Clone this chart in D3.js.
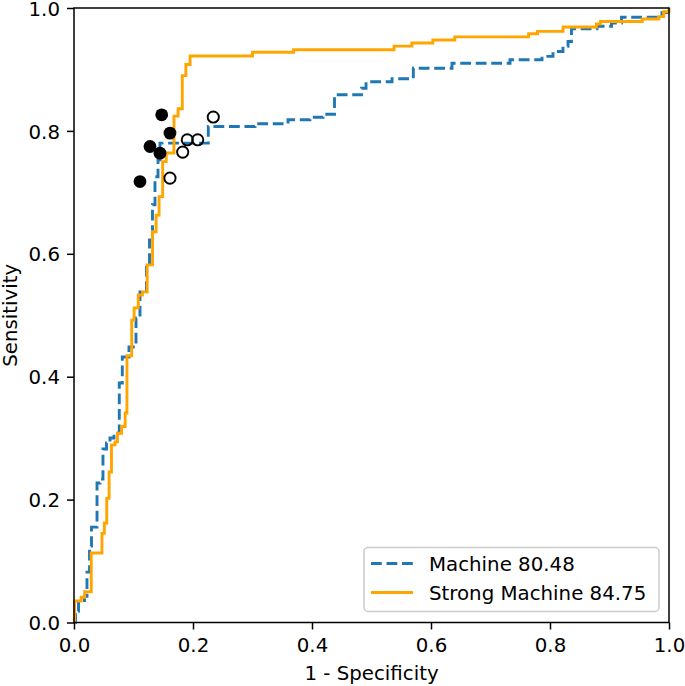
<!DOCTYPE html>
<html>
<head>
<meta charset="utf-8">
<script src="https://cdn.jsdelivr.net/npm/d3@7"></script>
<style>
  html, body { margin: 0; padding: 0; background: #fff; }
  svg { display: block; font-family: "DejaVu Sans", sans-serif; }
</style>
</head>
<body>
<svg id="chart" width="685" height="686"></svg>
<script>
// ---- Data ----
const machineFpr = [0, 0.0025, 0.0076, 0.0176, 0.0218, 0.0261, 0.0294, 0.0387, 0.0437, 0.0487, 0.0546, 0.0605, 0.0672, 0.0761, 0.0812, 0.0924, 0.1042, 0.1109, 0.1218, 0.1269, 0.1319, 0.1361, 0.1412, 0.1445, 0.2257, 0.3042, 0.3597, 0.3966, 0.4185, 0.4378, 0.4832, 0.4908, 0.5345, 0.5703, 0.6353, 0.7328, 0.7866, 0.8050, 0.8218, 0.8303, 0.8361, 0.8790, 0.9034, 0.9202, 0.9882, 0.9958, 1.0];
const machineTpr = [0, 0.0184, 0.0331, 0.0428, 0.0819, 0.1243, 0.1552, 0.2269, 0.2334, 0.2823, 0.2920, 0.3002, 0.3083, 0.3897, 0.4321, 0.4484, 0.4956, 0.5380, 0.5836, 0.6227, 0.6797, 0.7253, 0.7530, 0.7801, 0.8072, 0.8116, 0.8181, 0.8221, 0.8270, 0.8588, 0.8694, 0.8800, 0.8849, 0.9020, 0.9101, 0.9158, 0.9212, 0.9293, 0.9375, 0.9456, 0.9663, 0.9704, 0.9756, 0.9850, 0.9924, 1.0, 1.0];

const strongFpr = [0, 0.001, 0.012, 0.018, 0.029, 0.047, 0.051, 0.055, 0.059, 0.063, 0.069, 0.073, 0.080, 0.086, 0.089, 0.097, 0.101, 0.108, 0.115, 0.123, 0.132, 0.138, 0.143, 0.149, 0.155, 0.168, 0.175, 0.182, 0.188, 0.195, 0.300, 0.369, 0.538, 0.568, 0.603, 0.640, 0.764, 0.779, 0.822, 0.878, 0.885, 0.955, 0.983, 0.991, 1.0];
const strongTpr = [0, 0.035, 0.041, 0.050, 0.113, 0.145, 0.162, 0.202, 0.245, 0.289, 0.294, 0.308, 0.319, 0.341, 0.434, 0.492, 0.512, 0.533, 0.538, 0.582, 0.636, 0.663, 0.693, 0.750, 0.764, 0.824, 0.836, 0.890, 0.908, 0.922, 0.928, 0.932, 0.938, 0.943, 0.948, 0.953, 0.958, 0.962, 0.969, 0.974, 0.978, 0.982, 0.986, 0.994, 1.0];

// Individual readers (filled) and assisted readers (open)
const filledX = [0.1474, 0.1613, 0.1277, 0.1445, 0.1109];
const filledY = [0.8262, 0.7964, 0.7746, 0.7638, 0.7176];
const openX = [0.2341, 0.1904, 0.2079, 0.1827, 0.1613];
const openY = [0.8225, 0.7855, 0.7855, 0.7655, 0.7231];

const seriesNames = ["Machine 80.48", "Strong Machine 84.75"];
const seriesColors = ["#1f77b4", "#ffa500"];
const tickValues = [0.0, 0.2, 0.4, 0.6, 0.8, 1.0];
const xLabel = "1 - Specificity";
const yLabel = "Sensitivity";

// ---- Layout ----
const svg = d3.select("#chart");
const L = 74, R = 669, T = 8, B = 622.5;
const x = d3.scaleLinear().domain([0, 1]).range([L, R]);
const y = d3.scaleLinear().domain([0, 1]).range([B, T]);
const FS = 19.8;
const LW = 2.9;

const zip = (a, b) => a.map((v, i) => [v, b[i]]);
const line = d3.line().x(d => x(d[0])).y(d => y(d[1])).curve(d3.curveStepAfter);

const plot = svg.append("g");
// curves
plot.append("path")
  .attr("d", line(zip(machineFpr, machineTpr)))
  .attr("fill", "none").attr("stroke", seriesColors[0])
  .attr("stroke-width", LW).attr("stroke-dasharray", "10.8,4.7");
plot.append("path")
  .attr("d", line(zip(strongFpr, strongTpr)))
  .attr("fill", "none").attr("stroke", seriesColors[1])
  .attr("stroke-width", LW);

// markers
plot.selectAll("circle.filled").data(zip(filledX, filledY)).enter().append("circle")
  .attr("class", "filled")
  .attr("cx", d => x(d[0])).attr("cy", d => y(d[1])).attr("r", 6.4)
  .attr("fill", "#000");
plot.selectAll("circle.open").data(zip(openX, openY)).enter().append("circle")
  .attr("class", "open")
  .attr("cx", d => x(d[0])).attr("cy", d => y(d[1])).attr("r", 5.6)
  .attr("fill", "none").attr("stroke", "#000").attr("stroke-width", 1.9);

// axes
const fmt = d3.format(".1f");
const xAxis = svg.append("g").attr("transform", `translate(0,${B})`)
  .call(d3.axisBottom(x).tickValues(tickValues).tickFormat(fmt).tickSize(7).tickPadding(6));
const yAxis = svg.append("g").attr("transform", `translate(${L},0)`)
  .call(d3.axisLeft(y).tickValues(tickValues).tickFormat(fmt).tickSize(7).tickPadding(7));
[xAxis, yAxis].forEach(a => {
  a.select(".domain").remove();
  a.selectAll(".tick line").attr("stroke", "#000").attr("stroke-width", 1.5);
  a.selectAll(".tick text").attr("fill", "#000")
    .style("font-family", "'DejaVu Sans', sans-serif").style("font-size", FS + "px");
});
xAxis.selectAll(".tick text").attr("dy", null).attr("y", 29.5);
yAxis.selectAll(".tick text").attr("dy", "0.36em");

// spines
svg.append("rect").attr("x", L).attr("y", T).attr("width", R - L).attr("height", B - T)
  .attr("fill", "none").attr("stroke", "#000").attr("stroke-width", 1.5);

// axis labels
svg.append("text").attr("x", (L + R) / 2).attr("y", 680).attr("text-anchor", "middle")
  .style("font-size", FS + "px").attr("fill", "#000").text(xLabel);
svg.append("text").attr("transform", `translate(17,${(T + B) / 2}) rotate(-90)`)
  .attr("text-anchor", "middle").style("font-size", FS + "px").attr("fill", "#000").text(yLabel);

// legend
const lg = svg.append("g");
lg.append("rect").attr("x", 364).attr("y", 547.5).attr("width", 295).attr("height", 64)
  .attr("rx", 4).attr("fill", "#fff").attr("fill-opacity", 0.8)
  .attr("stroke", "#cccccc").attr("stroke-width", 1.5);
const rowsY = [563.5, 592.5];
seriesNames.forEach((name, i) => {
  lg.append("line").attr("x1", 371).attr("x2", 413).attr("y1", rowsY[i]).attr("y2", rowsY[i])
    .attr("stroke", seriesColors[i]).attr("stroke-width", LW)
    .attr("stroke-dasharray", i === 0 ? "10.8,4.7" : null);
  lg.append("text").attr("x", 429).attr("y", rowsY[i]).attr("dy", "0.36em")
    .style("font-size", FS + "px").attr("fill", "#000").text(name);
});
</script>
</body>
</html>
